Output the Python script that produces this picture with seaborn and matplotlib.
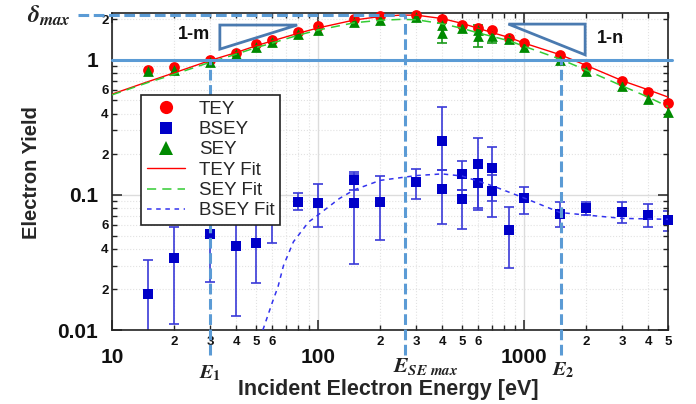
import numpy as np
import pandas as pd
import matplotlib
matplotlib.use("Agg")
import matplotlib.pyplot as plt
import seaborn as sns
from matplotlib.ticker import FixedLocator, FuncFormatter
from matplotlib.patches import Polygon
from matplotlib.lines import Line2D

# ---------------- data ----------------
tey_energy = [15, 20, 30, 40, 50, 60, 80, 100, 150, 200, 300, 400, 500, 600, 700, 850,
              1000, 1500, 2000, 3000, 4000, 5000]
tey_yield = [0.84, 0.88, 1.00, 1.13, 1.30, 1.41, 1.61, 1.77, 2.00, 2.12, 2.13, 2.01, 1.82,
             1.73, 1.66, 1.46, 1.33, 1.08, 0.89, 0.70, 0.577, 0.478]

sey_energy = [15, 20, 30, 40, 50, 60, 80, 100, 150, 200, 300, 400, 400, 500, 600, 600, 700,
              850, 1000, 1500, 2000, 3000, 4000, 5000]
sey_yield = [0.82, 0.84, 0.955, 1.10, 1.25, 1.35, 1.56, 1.67, 1.90, 1.98, 2.06, 1.82, 1.58,
             1.72, 1.66, 1.51, 1.49, 1.43, 1.24, 1.00, 0.82, 0.635, 0.51, 0.414]
sey_low = [np.nan] * 12 + [1.34] + [np.nan, np.nan] + [1.25, 1.33] + [np.nan] * 7
sey_high = [np.nan] * 12 + [1.87] + [np.nan, np.nan] + [1.82, 1.67] + [np.nan] * 7

bsey_energy = [15, 20, 30, 40, 50, 60, 80, 100, 150, 150, 200, 300, 400, 400, 500, 500,
               600, 600, 700, 700, 850, 1000, 1500, 2000, 3000, 4000, 5000]
bsey_yield = [0.0185, 0.0343, 0.0514, 0.042, 0.0439, 0.078, 0.089, 0.0877, 0.128, 0.0877,
              0.089, 0.124, 0.252, 0.111, 0.142, 0.0934, 0.169, 0.122, 0.158, 0.106,
              0.055, 0.0945, 0.0723, 0.0797, 0.0753, 0.0711, 0.0653]
bsey_low = [0.005, 0.011, 0.0225, 0.0127, 0.0224, 0.044, 0.0776, 0.058, 0.108, 0.031,
            0.046, 0.094, 0.153, 0.0607, 0.108, 0.0558, 0.080, 0.0776, 0.090, 0.0688,
            0.0286, 0.072, 0.0577, 0.071, 0.062, 0.058, 0.0545]
bsey_high = [0.0327, 0.058, 0.080, 0.071, 0.065, 0.11, 0.103, 0.12, 0.147, 0.144,
             0.137, 0.156, 0.447, 0.153, 0.177, 0.108, 0.263, 0.166, 0.226, 0.14,
             0.081, 0.115, 0.088, 0.089, 0.089, 0.085, 0.0765]

tey_fit_energy = [10, 15, 20, 30, 40, 50, 60, 80, 100, 150, 200, 250, 300, 400, 500, 600,
                  700, 850, 1000, 1500, 2000, 3000, 4000, 5000]
tey_fit_yield = [0.557, 0.69, 0.80, 0.99, 1.13, 1.27, 1.38, 1.57, 1.72, 1.97, 2.09, 2.14,
                 2.14, 2.02, 1.86, 1.71, 1.59, 1.46, 1.33, 1.09, 0.91, 0.70, 0.60, 0.53]

sey_fit_energy = [10, 15, 20, 30, 40, 50, 60, 80, 100, 150, 200, 250, 300, 400, 500, 600,
                  700, 850, 1000, 1500, 2000, 3000, 4000, 5000]
sey_fit_yield = [0.55, 0.68, 0.78, 0.96, 1.10, 1.23, 1.33, 1.52, 1.66, 1.88, 1.96, 1.99,
                 1.98, 1.85, 1.71, 1.58, 1.49, 1.38, 1.26, 1.01, 0.84, 0.64, 0.53, 0.45]

bsey_fit_energy = [54, 60, 64, 68, 76, 90, 100, 127, 150, 200, 300, 400, 500, 700, 1000,
                   1500, 2000, 3000, 5000]
bsey_fit_yield = [0.010, 0.016, 0.021, 0.030, 0.045, 0.063, 0.071, 0.094, 0.109, 0.128,
                  0.139, 0.143, 0.138, 0.117, 0.095, 0.074, 0.071, 0.067, 0.066]

marker_energies = {"E1": 30, "ESE": 264, "E2": 1520}
delta_max = 2.15

# ---------------- styling ----------------
sns.set_theme(style="ticks")
plt.rcParams["font.family"] = ["Liberation Sans", "DejaVu Sans"]
plt.rcParams["font.weight"] = "bold"
plt.rcParams["mathtext.fontset"] = "stix"

RED = "#ff0000"
GREEN = "#008a00"
BLUE = "#0000c8"
GUIDE = "#5b9bd5"
TRI = "#4a7ab0"

fig = plt.figure(figsize=(6.96, 4.04), dpi=100)
ax = fig.add_axes([112 / 696, 1 - 330 / 404, 556 / 696, 317 / 404])
ax.set_xscale("log")
ax.set_yscale("log")

# error bars
b_yerr = [np.array(bsey_yield) - np.array(bsey_low), np.array(bsey_high) - np.array(bsey_yield)]
ax.errorbar(bsey_energy, bsey_yield, yerr=b_yerr, fmt="none", ecolor="#3a3ad8",
            elinewidth=1.2, capsize=3.5, capthick=1.2, zorder=2)
s_yerr = [np.array(sey_yield) - np.array(sey_low), np.array(sey_high) - np.array(sey_yield)]
ax.errorbar(sey_energy, sey_yield, yerr=s_yerr, fmt="none", ecolor="#1a9a1a",
            elinewidth=1.2, capsize=3.5, capthick=1.2, zorder=2)

# markers
sns.scatterplot(x=tey_energy, y=tey_yield, marker="o", color=RED, s=60, linewidth=0,
                ax=ax, zorder=3, clip_on=False, legend=False)
sns.scatterplot(x=bsey_energy, y=bsey_yield, marker="s", color=BLUE, s=55, linewidth=0,
                ax=ax, zorder=3, clip_on=False, legend=False)
sns.scatterplot(x=sey_energy, y=sey_yield, marker="^", color=GREEN, s=60, linewidth=0,
                ax=ax, zorder=4, clip_on=False, legend=False)

# fits
sns.lineplot(x=tey_fit_energy, y=tey_fit_yield, color=RED, lw=1.0, ax=ax, sort=False,
             estimator=None, zorder=5, legend=False)
sns.lineplot(x=sey_fit_energy, y=sey_fit_yield, color="#33cc33", lw=1.1, ax=ax,
             sort=False, estimator=None, zorder=5, legend=False, linestyle=(0, (6, 4)))
sns.lineplot(x=bsey_fit_energy, y=bsey_fit_yield, color="#3333ee", lw=1.1, ax=ax,
             sort=False, estimator=None, zorder=5, legend=False, linestyle=(0, (3, 3)))

# guide lines
ax.axhline(1, xmin=0, xmax=1.008, color=GUIDE, lw=2.2, zorder=6, clip_on=False)
ax.plot([-0.061, 0.527], [delta_max, delta_max], transform=ax.get_yaxis_transform(),
        color=GUIDE, lw=2.2, ls=(0, (3.5, 1.5)), clip_on=False, zorder=6)
ylow = 10 ** (-2.185)
for key, top in (("E1", 1.0), ("ESE", delta_max), ("E2", 1.0)):
    e = marker_energies[key]
    ax.plot([e, e], [ylow, top], color=GUIDE, lw=2.2, ls=(0, (3.5, 1.5)),
            clip_on=False, zorder=6)

# slope triangles
ax.add_patch(Polygon([(0.194, 0.962), (0.333, 0.962), (0.194, 0.886)], closed=True,
                     fill=False, edgecolor=TRI, lw=2, transform=ax.transAxes, zorder=6))
ax.add_patch(Polygon([(0.713, 0.965), (0.851, 0.965), (0.851, 0.868)], closed=True,
                     fill=False, edgecolor=TRI, lw=2, transform=ax.transAxes, zorder=6))
ax.text(0.1475, 0.931, "1-m", transform=ax.transAxes, ha="center", va="center",
        fontsize=13, fontweight="bold", color="#111111")
ax.text(0.896, 0.921, "1-n", transform=ax.transAxes, ha="center", va="center",
        fontsize=13, fontweight="bold", color="#111111")

# math labels
fig.text(71 / 696, 1 - 16 / 404, r"$\delta_{max}$", ha="right", va="center", fontsize=17.5,
         color="#222222")
xt = ax.get_xaxis_transform()
ax.text(marker_energies["E1"], -0.151, r"$E_1$", transform=xt, ha="center",
        va="baseline", fontsize=14.5, color="#222222")
ax.text(marker_energies["ESE"] * 0.88, -0.133, r"$E_{SE\ max}$", transform=xt, ha="left",
        va="baseline", fontsize=15.5, color="#222222")
ax.text(marker_energies["E2"] * 1.02, -0.142, r"$E_2$", transform=xt, ha="center",
        va="baseline", fontsize=14.5, color="#222222")

# axes limits and ticks
ax.set_xlim(10, 5000)
ax.set_ylim(0.01, 2.22)

xmaj = [10, 100, 1000]
xmin = [m * 10 ** e for e in (1, 2, 3) for m in range(2, 10) if m * 10 ** e <= 5000]
ymaj = [0.01, 0.1, 1]
ymin = [m * 10.0 ** e for e in (-2, -1, 0) for m in range(2, 10) if m * 10.0 ** e <= 2.22]
ax.xaxis.set_major_locator(FixedLocator(xmaj))
ax.xaxis.set_minor_locator(FixedLocator(xmin))
ax.yaxis.set_major_locator(FixedLocator(ymaj))
ax.yaxis.set_minor_locator(FixedLocator(ymin))


def mant(v):
    return int(round(v / 10 ** np.floor(np.log10(v) + 1e-9)))


ax.xaxis.set_major_formatter(FuncFormatter(lambda v, p: f"{int(round(v))}"))
ax.xaxis.set_minor_formatter(FuncFormatter(lambda v, p: str(mant(v)) if mant(v) <= 6 else ""))
ax.yaxis.set_major_formatter(FuncFormatter(lambda v, p: {0.01: "0.01", 0.1: "0.1", 1: "1"}.get(round(v, 3), "")))
ax.yaxis.set_minor_formatter(FuncFormatter(lambda v, p: str(mant(v)) if mant(v) in (2, 4, 6) else ""))

ax.tick_params(which="both", direction="in", top=True, right=True, color="#222222",
               labelcolor="#111111")
ax.tick_params(which="major", length=7, width=1.1)
ax.tick_params(which="minor", length=3.6, width=1.0)
ax.tick_params(axis="x", which="major", labelsize=15, pad=13)
ax.tick_params(axis="x", which="minor", labelsize=9.5, pad=4)
ax.tick_params(axis="y", which="major", labelsize=15, pad=10)
ax.tick_params(axis="y", which="minor", labelsize=9.5, pad=2.5)

for sp in ax.spines.values():
    sp.set_color("#222222")
    sp.set_linewidth(1.2)

ax.grid(which="major", color="#dcdcdc", lw=1.0, ls="-", zorder=0)
ax.grid(which="minor", color="#e2e2e2", lw=0.8, ls=":", zorder=0)
ax.set_axisbelow(True)

ax.set_xlabel("Incident Electron Energy [eV]", fontsize=15.5, fontweight="bold")
ax.set_ylabel("Electron Yield", fontsize=14.5, fontweight="bold")
ax.xaxis.set_label_coords(0.497, -0.156)
ax.yaxis.set_label_coords(-0.128, 0.498)

# legend
handles = [
    Line2D([], [], marker="o", color=RED, ls="none", ms=9.5, mew=0),
    Line2D([], [], marker="s", color=BLUE, ls="none", ms=9, mew=0),
    Line2D([], [], marker="^", color=GREEN, ls="none", ms=10, mew=0),
    Line2D([], [], color=RED, lw=1.0),
    Line2D([], [], color="#33cc33", lw=1.1, ls=(0, (6, 4))),
    Line2D([], [], color="#3333ee", lw=1.1, ls=(0, (3, 3))),
]
labels = ["TEY", "BSEY", "SEY", "TEY Fit", "SEY Fit", "BSEY Fit"]
leg = ax.legend(handles, labels, loc="upper left", bbox_to_anchor=(0.053, 0.741),
                borderaxespad=0, frameon=True, fancybox=False, framealpha=1,
                edgecolor="#222222", prop={"family": "Liberation Sans", "weight": "normal",
                                           "size": 13.5},
                handlelength=2.0, handletextpad=0.75, labelspacing=0.17, borderpad=0.3)
leg.get_frame().set_linewidth(1.2)
leg.set_zorder(10)

fig.savefig("out.png", dpi=100)
